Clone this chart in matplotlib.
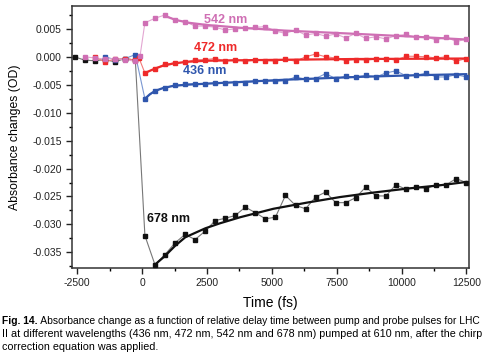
import numpy as np
import matplotlib
matplotlib.use("Agg")
from matplotlib import pyplot as plt
from matplotlib.ticker import MultipleLocator

# measured delay grid (fs)
t_post = [109, 496, 883, 1270, 1657, 2044, 2431, 2818, 3205, 3592, 3979, 4366, 4753,
          5140, 5527, 5914, 6301, 6688, 7075, 7462, 7849, 8236, 8623, 9010, 9397,
          9784, 10171, 10558, 10945, 11332, 11719, 12106, 12493]

# 678 nm
t_pre_678 = [-2600, -2210, -1820, -1430, -1040, -650, -260]
v_pre_678 = [0.0, -0.0006, -0.0007, -0.0005, -0.0009, -0.0003, -0.0006]
v_post_678 = [-0.0320, -0.0372, -0.0354, -0.0333, -0.0318, -0.0327, -0.0312, -0.0293,
              -0.0289, -0.0284, -0.0269, -0.0279, -0.0290, -0.0287, -0.0248, -0.0266,
              -0.0272, -0.0251, -0.0242, -0.0261, -0.0261, -0.0252, -0.0233, -0.0249,
              -0.0249, -0.0229, -0.0237, -0.0233, -0.0236, -0.0229, -0.0229, -0.0218,
              -0.0225]
fit_t_678 = [496, 870, 1280, 1665, 2435, 3000, 3790, 5060, 6350, 7630, 8910, 10190, 11470, 12493]
fit_v_678 = [-0.0372, -0.0357, -0.0338, -0.0323, -0.0307, -0.0298, -0.0287, -0.0272,
             -0.0261, -0.0251, -0.0243, -0.0236, -0.0230, -0.0224]

# 542 nm
t_pre_542 = [-2210, -1820, -1430, -1040, -650, -260, -80]
v_pre_542 = [0.0, -0.0002, -0.0004, -0.0003, -0.0005, -0.0008, 0.0001]
v_post_542 = [0.0061, 0.0069, 0.0075, 0.0066, 0.0063, 0.0055, 0.0055, 0.0053, 0.0048,
              0.0050, 0.0051, 0.0053, 0.0054, 0.0046, 0.0042, 0.0048, 0.0039, 0.0042,
              0.0037, 0.0041, 0.0034, 0.0042, 0.0033, 0.0036, 0.0032, 0.0038, 0.0040,
              0.0035, 0.0036, 0.0030, 0.0036, 0.0027, 0.0032]
fit_t_542 = [883, 1300, 1800, 2500, 3800, 5500, 8300, 10500, 12493]
fit_v_542 = [0.0073, 0.0066, 0.0061, 0.0057, 0.0052, 0.0047, 0.0041, 0.0036, 0.0031]

# 472 nm
t_pre_472 = [-1820, -1430, -1040, -650, -260, -120]
v_pre_472 = [0.0, -0.0009, -0.0004, -0.0003, -0.0006, -0.0002]
v_post_472 = [-0.0029, -0.0021, -0.0013, -0.0011, -0.0010, -0.0005, -0.0005, -0.0003,
              -0.0007, -0.0005, -0.0008, -0.0006, -0.0007, -0.0008, -0.0004, -0.0008,
              0.0000, 0.0005, 0.0000, -0.0002, -0.0007, -0.0005, -0.0006, -0.0004,
              -0.0003, -0.0006, 0.0001, 0.0001, 0.0000, -0.0002, 0.0000, -0.0008, -0.0003]
fit_t_472 = [109, 300, 500, 800, 1200, 1700, 2500, 4000, 8000, 12493]
fit_v_472 = [-0.0029, -0.0025, -0.0021, -0.0016, -0.0012, -0.0009, -0.0007, -0.0006,
             -0.0004, -0.0003]

# 436 nm
t_pre_436 = [-1430, -1040, -650, -260]
v_pre_436 = [0.0, -0.0005, -0.0003, 0.0004]
v_post_436 = [-0.0075, -0.0061, -0.0055, -0.0051, -0.0049, -0.0048, -0.0048, -0.0047,
              -0.0046, -0.0046, -0.0046, -0.0044, -0.0043, -0.0044, -0.0043, -0.0036,
              -0.0040, -0.0039, -0.0030, -0.0039, -0.0035, -0.0036, -0.0033, -0.0036,
              -0.0029, -0.0025, -0.0034, -0.0033, -0.0029, -0.0036, -0.0036, -0.0032,
              -0.0036]
fit_t_436 = [109, 300, 500, 800, 1200, 1700, 2500, 3800, 5500, 8300, 10500, 12493]
fit_v_436 = [-0.0075, -0.0067, -0.0061, -0.0056, -0.0052, -0.0050, -0.0048, -0.0045,
             -0.0041, -0.0036, -0.0033, -0.0031]

plt.rcParams['font.family'] = ['Liberation Sans', 'DejaVu Sans']
plt.rcParams['axes.unicode_minus'] = False

fig = plt.figure(figsize=(4.85, 3.61), dpi=100)
ax = fig.add_axes([0.1485, 0.2576, 0.8185, 0.7258])

series = [
    ('542 nm', t_pre_542, v_pre_542, v_post_542, fit_t_542, fit_v_542, '#cf6fb4', '#e3a6d2', (3220, 0.0066)),
    ('472 nm', t_pre_472, v_pre_472, v_post_472, fit_t_472, fit_v_472, '#ee2a2a', '#f47a7a', (2820, 0.0015)),
    ('436 nm', t_pre_436, v_pre_436, v_post_436, fit_t_436, fit_v_436, '#2f56ad', '#7a97d2', (2420, -0.0026)),
    ('678 nm', t_pre_678, v_pre_678, v_post_678, fit_t_678, fit_v_678, '#111111', '#777777', (1025, -0.0291)),
]

for name, tp, vp, vq, ft, fv, col, thin, pos in series[::-1]:
    tt = list(tp) + t_post
    vv = list(vp) + vq
    ax.plot(tt, vv, '-', color=thin, lw=0.8, zorder=2)
    ax.plot(tt, vv, 's', color=col, ms=3.3, mec=col, zorder=3)
    ax.plot(ft, fv, '-', color=col, lw=1.6, zorder=4)
    ax.text(pos[0], pos[1], name, color=col, fontsize=9, fontweight='bold',
            ha='center', va='center', zorder=5)

ax.set_xlim(-2700, 12600)
ax.set_ylim(-0.0378, 0.0091)
ax.xaxis.set_major_locator(MultipleLocator(2500))
ax.xaxis.set_minor_locator(MultipleLocator(1250))
ax.yaxis.set_major_locator(MultipleLocator(0.005))
ax.yaxis.set_minor_locator(MultipleLocator(0.0025))
ax.yaxis.set_major_formatter(plt.FuncFormatter(lambda v, p: '%.3f' % v if abs(v) > 1e-9 else '0.000'))
ax.tick_params(which='major', direction='out', length=4, width=1, labelsize=7.5, colors='#222222')
ax.tick_params(which='minor', direction='out', length=2, width=1)
ax.tick_params(top=False, right=False)
for s in ax.spines.values():
    s.set_linewidth(1.1)
    s.set_color('#333333')

ax.set_xlabel('Time (fs)', fontsize=10)
ax.xaxis.set_label_coords(0.5, -0.108)
ax.set_ylabel('Absorbance changes (OD)', fontsize=8.8)
ax.yaxis.set_label_coords(-0.128, 0.5)

cap = ['Absorbance change as a function of relative delay time between pump and probe pulses for LHC',
       'II at different wavelengths (436 nm, 472 nm, 542 nm and 678 nm) pumped at 610 nm, after the chirp',
       'correction equation was applied.']
x0_px, x1_px = 2, 481
W = fig.bbox.width
rend = fig.canvas.get_renderer()

# first line: bold label + text, scaled to the caption width
fs1 = 7.0
bold = fig.text(x0_px / W, 1 - 321 / 361, 'Fig. 14.', fontsize=fs1, fontweight='bold', va='center')
rest = fig.text(0, 1 - 321 / 361, ' ' + cap[0], fontsize=fs1, va='center')
for _ in range(3):
    wb = bold.get_window_extent(renderer=rend).width
    wr = rest.get_window_extent(renderer=rend).width
    fs1 = fs1 * (x1_px - x0_px) / (wb + wr)
    bold.set_fontsize(fs1)
    rest.set_fontsize(fs1)
wb = bold.get_window_extent(renderer=rend).width
rest.set_x((x0_px + wb) / W)

fs2 = 7.0
line2 = fig.text(x0_px / W, 1 - 334 / 361, cap[1], fontsize=fs2, va='center')
for _ in range(3):
    w2 = line2.get_window_extent(renderer=rend).width
    fs2 = fs2 * (x1_px - x0_px) / w2
    line2.set_fontsize(fs2)
fig.text(x0_px / W, 1 - 347 / 361, cap[2], fontsize=fs2, va='center')

fig.savefig('out.png', dpi=100)
